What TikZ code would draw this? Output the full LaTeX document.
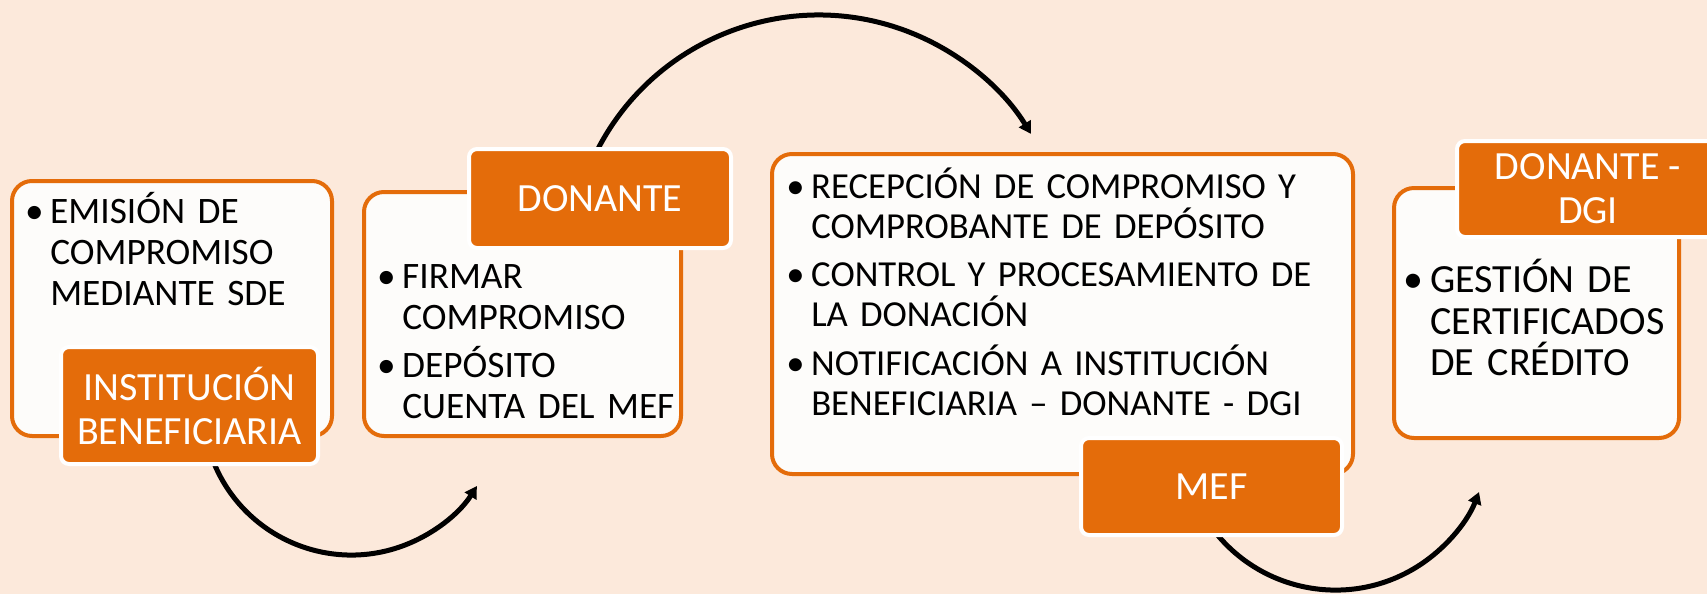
\documentclass[tikz,border=0pt]{standalone}
\usepackage{fontspec}
\setmainfont{Carlito}
\usetikzlibrary{arrows.meta,fit}
\definecolor{bg}{HTML}{FCE9DB}
\definecolor{org}{HTML}{E46C0A}
\definecolor{paper}{HTML}{FDFCFA}
\newcommand{\bitem}[1]{\noindent\llap{\textbullet\hspace{5pt}}#1\par}
\tikzset{
  x=0.75pt, y=-0.75pt,
  box/.style={draw=org, line width=3pt, fill=paper, rounded corners=15pt, inner sep=0pt},
  lbl/.style={draw=white, line width=3pt, fill=org, rounded corners=6pt, inner sep=0pt},
  btxt/.style={anchor=north west, inner sep=0pt, text width=460pt, align=left},
  ltxt/.style={text=white, align=center, inner sep=0pt, font=\fontsize{30}{33}\selectfont},
  conn/.style={line width=3.75pt, -{Triangle[length=9pt,width=10pt]}}
}
\begin{document}
\begin{tikzpicture}
\path[use as bounding box] (0,0) rectangle (1707,594);
\clip (0,0) rectangle (1707,594);
\fill[bg] (0,0) rectangle (1707,594);

% connectors (behind)
\coordinate (a1s) at (211.7,457.2);
\coordinate (a2s) at (591.3,162.7);
\coordinate (a3s) at (1209.4,524.4);
\draw[conn] (a1s) arc[start angle=200, end angle=327.6, radius=111.5pt];
\draw[conn] (a2s) arc[start angle=156, end angle=31.5, radius=186.7pt];
\draw[conn] (a3s) arc[start angle=215, end angle=338.7, radius=115.5pt];

% boxes
\node[box, fit={(12,181) (332,436)}] (b1) {};
\node[box, fit={(364,192) (681,436)}] (b2) {};
\node[box, fit={(772,154) (1353,474)}] (b3) {};
\node[box, fit={(1394,188) (1679,438)}] (b4) {};

% box texts
\node[btxt, font=\fontsize{28}{30.8}\selectfont] (t1) at (50,187) {\setlength{\parskip}{6.5pt}%
  \bitem{\rule{0pt}{27pt}EMISIÓN DE\\COMPROMISO\\MEDIANTE SDE}};
\node[btxt, font=\fontsize{28}{30.8}\selectfont] (t2) at (402,252) {\setlength{\parskip}{5.5pt}%
  \bitem{\rule{0pt}{27pt}FIRMAR\\COMPROMISO}\bitem{DEPÓSITO\\CUENTA DEL MEF}};
\node[btxt, font=\fontsize{27.5}{30}\selectfont] (t3) at (811,162) {\setlength{\parskip}{6.5pt}%
  \bitem{\rule{0pt}{27pt}RECEPCIÓN DE COMPROMISO Y\\COMPROBANTE DE DEPÓSITO}%
  \bitem{CONTROL Y PROCESAMIENTO DE\\LA DONACIÓN}%
  \bitem{NOTIFICACIÓN A INSTITUCIÓN\\BENEFICIARIA – DONANTE - DGI}};
\node[btxt, font=\fontsize{30}{31.3}\selectfont] (t4) at (1430,256) {\setlength{\parskip}{6.5pt}%
  \bitem{\rule{0pt}{27pt}GESTIÓN DE\\CERTIFICADOS\\DE CRÉDITO}};

% labels
\node[lbl, fit={(61,347) (318,464)}] (l1) {};
\node[lbl, fit={(469,149) (731,248)}] (l2) {};
\node[lbl, fit={(1081,438) (1342,535)}] (l3) {};
\node[lbl, fit={(1457,141) (1719,237)}] (l4) {};
\node[ltxt] (lt1) at (l1.center) {INSTITUCIÓN\\BENEFICIARIA};
\node[ltxt] (lt2) at (l2.center) {DONANTE};
\node[ltxt] (lt3) at (l3.center) {MEF};
\node[ltxt] (lt4) at (l4.center) {DONANTE -\\DGI};
\end{tikzpicture}
\end{document}
